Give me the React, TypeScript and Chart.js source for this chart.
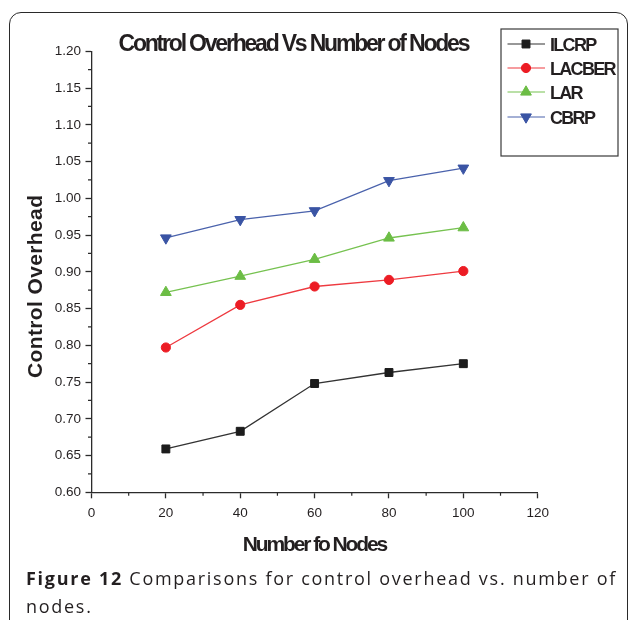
import React, { useEffect, useRef } from "react";
import { Chart, registerables } from "chart.js";
import { drawPoint } from "chart.js/helpers";

Chart.register(...registerables);

// ---------- data ----------
const CHART_TITLE = "Control Overhead Vs Number of Nodes";
const X_TITLE = "Number fo Nodes";
const Y_TITLE = "Control Overhead";
const CAPTION_BOLD = "Figure 12";
const CAPTION_LINE1 = " Comparisons for control overhead vs. number of";
const CAPTION_LINE2 = "nodes.";

const nodes = [20, 40, 60, 80, 100];
const seriesNames = ["ILCRP", "LACBER", "LAR", "CBRP"];
const ilcrp = [0.659, 0.683, 0.748, 0.763, 0.775];
const lacber = [0.797, 0.855, 0.88, 0.889, 0.901];
const lar = [0.872, 0.894, 0.917, 0.946, 0.96];
const cbrp = [0.946, 0.971, 0.983, 1.024, 1.041];

const xTicks = [0, 20, 40, 60, 80, 100, 120];
const yTicks = [0.6, 0.65, 0.7, 0.75, 0.8, 0.85, 0.9, 0.95, 1.0, 1.05, 1.1, 1.15, 1.2];

// ---------- styles ----------
const W = 629;
const H = 620;
const TEXT = "#231f20";
const AXIS = "#2b2b2b";
const FONT = '"Liberation Sans", Arial, sans-serif';

const seriesStyle = [
  { color: "#1c1c1c", line: "#333333", pointStyle: "rect", rotation: 0, radius: 5.6 },
  { color: "#ec1c24", line: "#ee3a40", pointStyle: "circle", rotation: 0, radius: 4.6 },
  { color: "#6cbd45", line: "#76c250", pointStyle: "triangle", rotation: 0, radius: 6.2 },
  { color: "#3a54a4", line: "#4a62ac", pointStyle: "triangle", rotation: 180, radius: 6.2 },
];
const seriesValues = [ilcrp, lacber, lar, cbrp];

function fitText(ctx: CanvasRenderingContext2D, text: string, x: number, y: number, width: number) {
  const c: any = ctx;
  if ("letterSpacing" in c) c.letterSpacing = "0px";
  const natural = ctx.measureText(text).width;
  const n = Array.from(text).length;
  if ("letterSpacing" in c && n > 1) {
    c.letterSpacing = (width - natural) / (n - 1) + "px";
    ctx.fillText(text, x, y);
    c.letterSpacing = "0px";
  } else {
    ctx.save();
    ctx.translate(x, y);
    ctx.scale(width / natural, 1);
    ctx.fillText(text, 0, 0);
    ctx.restore();
  }
}

const titlesPlugin = {
  id: "titles",
  afterDraw(chart: any) {
    const ctx: CanvasRenderingContext2D = chart.ctx;
    ctx.save();
    ctx.fillStyle = TEXT;
    ctx.textAlign = "left";
    ctx.textBaseline = "alphabetic";
    // chart title
    ctx.font = `bold 23px ${FONT}`;
    fitText(ctx, CHART_TITLE, 118.5, 51, 352);
    // x title
    ctx.font = `bold 21px ${FONT}`;
    fitText(ctx, X_TITLE, 242.7, 551, 145.6);
    // y title
    ctx.save();
    ctx.translate(41.5, 378);
    ctx.rotate(-Math.PI / 2);
    ctx.font = `bold 21px ${FONT}`;
    fitText(ctx, Y_TITLE, 0, 0, 183);
    ctx.restore();
    ctx.restore();
  },
};

const minorTicksPlugin = {
  id: "minorTicks",
  afterDraw(chart: any) {
    const ctx: CanvasRenderingContext2D = chart.ctx;
    const xs = chart.scales.x;
    const ys = chart.scales.y;
    ctx.save();
    ctx.strokeStyle = AXIS;
    ctx.lineWidth = 1.2;
    ctx.beginPath();
    for (let i = 0; i < xTicks.length - 1; i++) {
      const px = xs.getPixelForValue((xTicks[i] + xTicks[i + 1]) / 2);
      ctx.moveTo(px, xs.top);
      ctx.lineTo(px, xs.top + 3.5);
    }
    for (let i = 0; i < yTicks.length - 1; i++) {
      const py = ys.getPixelForValue((yTicks[i] + yTicks[i + 1]) / 2);
      ctx.moveTo(ys.right, py);
      ctx.lineTo(ys.right - 3.5, py);
    }
    ctx.stroke();
    ctx.restore();
  },
};

const legendPlugin = {
  id: "boxLegend",
  afterDraw(chart: any) {
    const ctx: CanvasRenderingContext2D = chart.ctx;
    const box = { left: 501, top: 29, right: 618, bottom: 156 };
    ctx.save();
    ctx.strokeStyle = "#3a3a3a";
    ctx.lineWidth = 1.2;
    ctx.strokeRect(box.left, box.top, box.right - box.left, box.bottom - box.top);
    const rows = [44, 68, 92, 117];
    chart.data.datasets.forEach((ds: any, i: number) => {
      const y = rows[i];
      ctx.strokeStyle = ds.borderColor;
      ctx.lineWidth = 1.2;
      ctx.beginPath();
      ctx.moveTo(507.5, y);
      ctx.lineTo(545, y);
      ctx.stroke();
      ctx.fillStyle = ds.pointBackgroundColor;
      ctx.strokeStyle = ds.pointBackgroundColor;
      ctx.lineWidth = 1;
      drawPoint(
        ctx,
        { pointStyle: ds.pointStyle, rotation: ds.pointRotation, radius: ds.pointRadius, borderWidth: 1 },
        526,
        y
      );
      ctx.fillStyle = TEXT;
      ctx.font = `bold 18px ${FONT}`;
      ctx.textAlign = "left";
      ctx.textBaseline = "alphabetic";
      const c: any = ctx;
      if ("letterSpacing" in c) c.letterSpacing = "-1.7px";
      ctx.fillText(ds.label, 550, y + 6.6);
      if ("letterSpacing" in c) c.letterSpacing = "0px";
    });
    ctx.restore();
  },
};

function ChartCanvas() {
  const ref = useRef<HTMLCanvasElement | null>(null);
  useEffect(() => {
    if (!ref.current) return;
    const datasets = seriesNames.map((name, i) => {
      const s = seriesStyle[i];
      return {
        label: name,
        data: nodes.map((x, j) => ({ x, y: seriesValues[i][j] })),
        borderColor: s.line,
        backgroundColor: s.color,
        borderWidth: 1.3,
        pointStyle: s.pointStyle,
        pointRotation: s.rotation,
        pointRadius: s.radius,
        pointBackgroundColor: s.color,
        pointBorderColor: s.color,
        pointBorderWidth: 1,
        tension: 0,
        fill: false,
      };
    });
    const chart = new Chart(ref.current, {
      type: "line",
      data: { datasets } as any,
      options: {
        animation: false,
        responsive: false,
        maintainAspectRatio: false,
        devicePixelRatio: 1,
        layout: { padding: { left: 41.5, right: W - 537.7, top: 51.3, bottom: H - 492.3 - 30 } },
        plugins: { legend: { display: false }, title: { display: false }, tooltip: { enabled: false } },
        scales: {
          x: {
            type: "linear",
            position: "bottom",
            min: 0,
            max: 120,
            afterBuildTicks: (s: any) => {
              s.ticks = xTicks.map((v) => ({ value: v }));
            },
            afterFit: (s: any) => {
              s.height = 30;
            },
            ticks: {
              autoSkip: false,
              maxRotation: 0,
              padding: 7,
              color: TEXT,
              font: { family: FONT, size: 13.5 },
              callback: (v: any) => String(v),
            },
            grid: { drawOnChartArea: false, drawTicks: true, tickLength: 6, tickWidth: 1.3, tickColor: AXIS },
            border: { display: true, color: AXIS, width: 1.3 },
          },
          y: {
            type: "linear",
            position: "left",
            min: 0.6,
            max: 1.2,
            afterBuildTicks: (s: any) => {
              s.ticks = yTicks.map((v) => ({ value: v }));
            },
            afterFit: (s: any) => {
              s.width = 50;
            },
            ticks: {
              autoSkip: false,
              padding: 4.5,
              color: TEXT,
              font: { family: FONT, size: 13.5 },
              callback: (v: any) => Number(v).toFixed(2),
            },
            grid: { drawOnChartArea: false, drawTicks: true, tickLength: 6, tickWidth: 1.3, tickColor: AXIS },
            border: { display: true, color: AXIS, width: 1.3 },
          },
        },
      },
      plugins: [minorTicksPlugin, titlesPlugin, legendPlugin],
    } as any);
    return () => chart.destroy();
  }, []);
  return (
    <canvas
      ref={ref}
      width={W}
      height={H}
      style={{ position: "absolute", left: 0, top: 0, width: W, height: H }}
    />
  );
}

export default function App() {
  return (
    <div
      style={{
        position: "absolute",
        left: 0,
        top: 0,
        width: W,
        height: H,
        overflow: "hidden",
        background: "#ffffff",
      }}
    >
      <div
        style={{
          position: "absolute",
          left: 9,
          top: 12,
          width: 619,
          height: 700,
          border: "1.5px solid #2a2a2a",
          borderRadius: 12,
          boxSizing: "border-box",
        }}
      />
      <ChartCanvas />
      <div
        style={{
          position: "absolute",
          left: 26,
          top: 564,
          whiteSpace: "nowrap",
          fontFamily: '"Open Sans", "Noto Sans", sans-serif',
          fontSize: 18,
          lineHeight: "28px",
          color: TEXT,
          letterSpacing: "1.72px",
        }}
      >
        <span style={{ fontWeight: 700 }}>{CAPTION_BOLD}</span>
        <span>{CAPTION_LINE1}</span>
        <br />
        <span>{CAPTION_LINE2}</span>
      </div>
    </div>
  );
}
